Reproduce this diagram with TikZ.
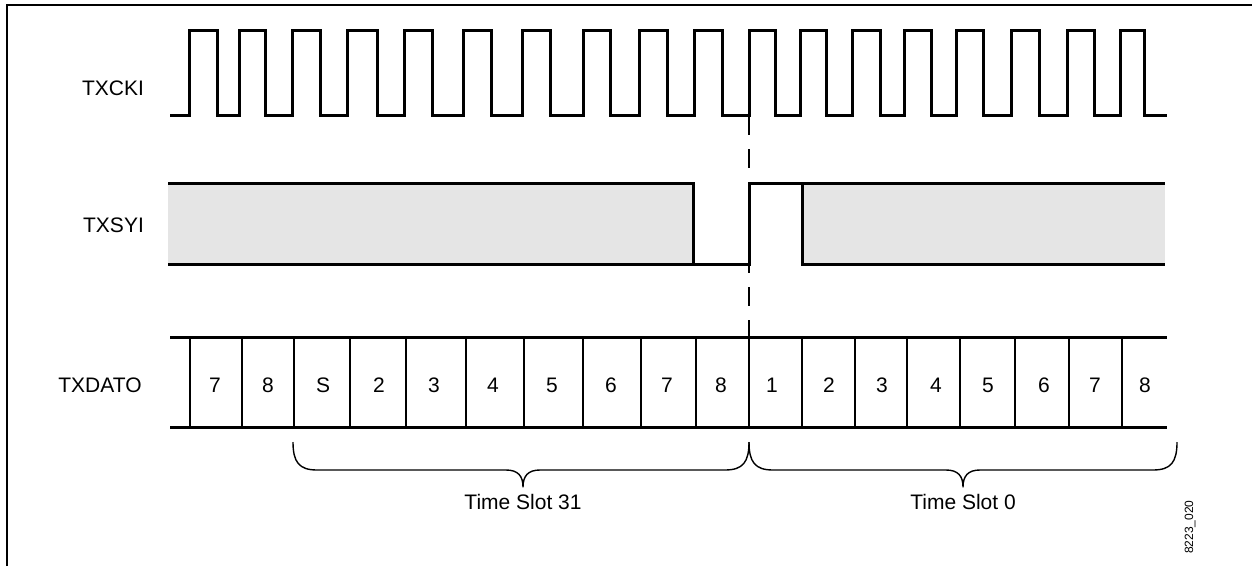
\documentclass[tikz,border=0pt]{standalone}
\usepackage{fontspec}
\setmainfont{Liberation Sans}
\definecolor{sygray}{RGB}{229,229,229}
\begin{document}
\begin{tikzpicture}[x=1pt,y=-1pt,
  frameline/.style={line width=2.2pt},
  sig/.style={line width=3pt, line join=miter},
  rowline/.style={line width=3pt},
  cellline/.style={line width=2pt},
  bracepath/.style={line width=1.4pt, line join=round},
  guide/.style={line width=2pt, dash pattern=on 19pt off 14pt},
  lbl/.style={font=\fontsize{21}{23}\selectfont, inner sep=0pt},
  tag/.style={font=\fontsize{12}{14}\selectfont, inner sep=0pt, rotate=90}]
\useasboundingbox (0,0) rectangle (1252,566);
% frame
\draw[frameline] (7,566) -- (7,5) -- (1252,5);
% signal labels
\node[lbl] (lck) at (113,88) {TXCKI};
\node[lbl] (lsy) at (113.5,225) {TXSYI};
\node[lbl] (ldat) at (100,385) {TXDATO};
% clock
\draw[sig] (170,115)
  foreach \r/\f in {189/217, 239/265, 292/320, 347/377, 404/432, 463/491,
                    522/550, 583/610, 639/667, 694/722, 749/775, 800/826,
                    852/880, 904/931, 956/983, 1011/1039, 1067/1094, 1120/1144}
  { -- (\r,115) -- (\r,30) -- (\f,30) -- (\f,115) } -- (1167,115);
% sync
\fill[sygray] (168,183) rectangle (693,264);
\fill[sygray] (802,183) rectangle (1165,264);
\draw[sig] (168,183) -- (693,183) -- (693,264);
\draw[sig] (168,264) -- (749,264) -- (749,183) -- (1165,183);
\draw[sig] (802,183) -- (802,264) -- (1165,264);
% dashed guide
\draw[guide] (749,116) -- (749,183);
\draw[guide] (749,254) -- (749,337);
% data row
\draw[rowline] (170,337) -- (1167,337);
\draw[rowline] (170,427) -- (1167,427);
\foreach \x in {190,242,294,350,406,466,524,583,641,696,749,802,855,907,960,1015,1069,1122}
  \draw[cellline] (\x,337) -- (\x,427);
\foreach \x/\t [count=\i] in {215/7, 268/8, 323/S, 379/2, 434/3, 493/4, 552/5, 611/6, 667/7,
                  721/8, 772/1, 829/2, 882/3, 936/4, 988/5, 1044/6, 1095/7, 1145/8}
  \node[lbl] (d\i) at (\x,385) {\t};
% braces
\draw[bracepath] (293,442) .. controls (293,462) and (299,470) .. (317,470)
  -- (506,470) .. controls (518,470) and (523,476) .. (523,487)
  .. controls (523,476) and (528,470) .. (540,470)
  -- (725,470) .. controls (743,470) and (749,462) .. (749,442);
\draw[bracepath] (749,442) .. controls (749,462) and (755,470) .. (773,470)
  -- (946,470) .. controls (958,470) and (963,476) .. (963,487)
  .. controls (963,476) and (968,470) .. (980,470)
  -- (1153,470) .. controls (1171,470) and (1177,462) .. (1177,442);
\node[lbl] (ts31) at (523,502) {Time Slot 31};
\node[lbl] (ts0) at (963,502) {Time Slot 0};
\node[tag] (fig) at (1190,527) {8223\_020};
\end{tikzpicture}
\end{document}
